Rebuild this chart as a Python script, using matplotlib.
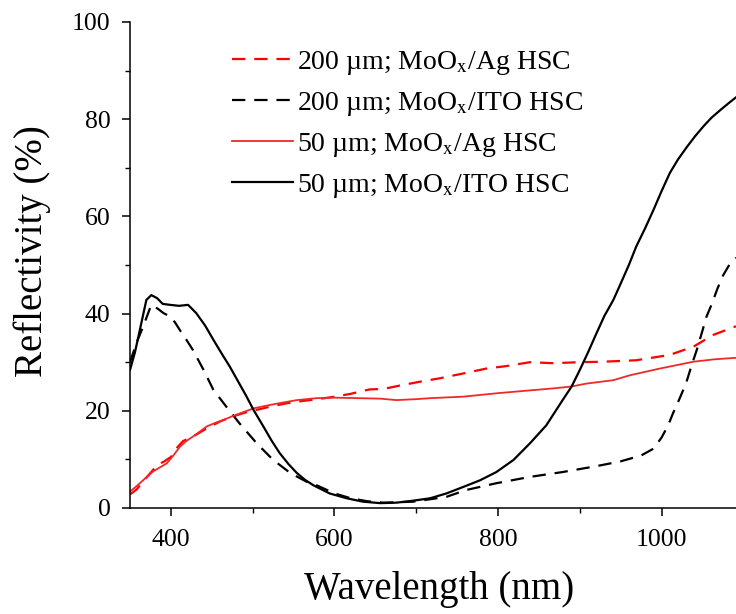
import matplotlib
matplotlib.use("Agg")
import matplotlib.pyplot as plt
from matplotlib.ticker import MultipleLocator

plt.rcParams["font.family"] = ["Liberation Serif", "DejaVu Serif"]
plt.rcParams["mathtext.fontset"] = "stix"

# 50 um; MoOx/ITO HSC (black solid)
wl_ito50 = [350, 356, 362, 370, 376, 383, 390, 399, 410, 421, 431, 442, 452, 462, 472,
            482, 492, 501, 513, 523, 533, 544, 554, 564, 574, 594, 615, 635, 656, 676,
            696, 717, 737, 757, 778, 798, 819, 839, 859, 879, 890, 900, 910, 920, 930,
            941, 949, 960, 969, 980, 990, 1000, 1010, 1020, 1031, 1041, 1051, 1061,
            1072, 1082, 1091]
r_ito50 = [28.4, 32.0, 36.6, 42.8, 43.8, 43.2, 42.0, 41.8, 41.6, 41.8, 40.1, 37.5, 34.6,
           31.8, 29.1, 26.1, 23.1, 20.2, 16.8, 13.9, 11.3, 9.0, 7.2, 5.8, 4.7, 3.0, 2.0,
           1.3, 1.0, 1.1, 1.5, 2.0, 3.0, 4.3, 5.7, 7.4, 9.9, 13.3, 17.0, 22.2, 25.0, 28.4,
           32.0, 35.8, 39.5, 42.8, 45.8, 50.0, 53.8, 57.6, 61.3, 65.2, 68.9, 71.7, 74.3,
           76.5, 78.5, 80.3, 81.9, 83.3, 84.5]

# 200 um; MoOx/ITO HSC (black dashed)
wl_ito200 = [350, 358, 366, 376, 384, 391, 399, 405, 411, 419, 427, 440, 452, 468, 484,
             505, 525, 546, 566, 578, 600, 620, 640, 660, 680, 696, 717, 737, 761, 798,
             839, 879, 920, 950, 975, 990, 1000, 1008, 1014, 1022, 1030, 1037, 1043,
             1050, 1055, 1061, 1068, 1075, 1082, 1091]
r_ito200 = [30.0, 34.0, 37.3, 41.8, 41.0, 40.1, 39.4, 38.2, 36.6, 34.6, 32.5, 28.4, 24.3,
            20.8, 17.4, 13.3, 9.9, 7.2, 5.4, 4.7, 3.0, 2.0, 1.4, 1.1, 1.2, 1.3, 1.8, 2.3,
            3.7, 5.1, 6.4, 7.4, 8.6, 9.6, 10.8, 12.2, 14.5, 17.0, 19.5, 22.5, 25.7, 29.5,
            32.5, 36.5, 39.4, 41.8, 45.0, 47.8, 49.8, 51.5]

# 50 um; MoOx/Ag HSC (red solid)
wl_ag50 = [350, 356, 362, 370, 378, 386, 395, 403, 411, 419, 427, 436, 444, 454, 464,
           474, 485, 501, 521, 537, 554, 578, 600, 630, 656, 676, 700, 717, 757, 798,
           839, 867, 890, 908, 941, 961, 998, 1039, 1065, 1091]
r_ag50 = [3.4, 4.2, 5.1, 6.3, 7.5, 8.3, 9.2, 10.8, 12.6, 13.8, 14.7, 15.8, 16.8, 17.5,
          18.1, 18.8, 19.5, 20.5, 21.2, 21.7, 22.2, 22.6, 22.7, 22.6, 22.5, 22.2, 22.4,
          22.6, 22.9, 23.6, 24.2, 24.6, 25.0, 25.6, 26.3, 27.3, 28.7, 30.1, 30.6, 30.9]

# 200 um; MoOx/Ag HSC (red dashed)
wl_ag200 = [350, 358, 366, 375, 383, 392, 400, 408, 415, 425, 435, 445, 460, 475, 490,
            505, 520, 540, 560, 580, 600, 620, 643, 660, 680, 705, 729, 758, 786, 810,
            839, 867, 900, 928, 969, 1010, 1039, 1063, 1091]
r_ag200 = [2.8, 3.8, 5.5, 7.2, 8.8, 9.6, 10.5, 12.5, 13.8, 14.5, 15.5, 16.5, 17.8, 18.8,
           19.6, 20.2, 20.8, 21.5, 22.0, 22.4, 22.9, 23.5, 24.4, 24.5, 25.2, 26.0, 26.7,
           27.7, 28.7, 29.2, 30.0, 29.8, 30.0, 30.1, 30.4, 31.5, 33.2, 35.6, 37.4]

fig = plt.figure(figsize=(7.36, 6.14), dpi=100)
ax = fig.add_axes([130 / 736, 106 / 614, 606 / 736, 486 / 614])

dash = (0, (6.0, 4.0))
ax.plot(wl_ag200, r_ag200, color="#ff0000", lw=1.6, ls=dash,
        label="200 µm; MoO$_\\mathrm{x}$/Ag HSC")
ax.plot(wl_ito200, r_ito200, color="black", lw=1.6, ls=dash,
        label="200 µm; MoO$_\\mathrm{x}$/ITO HSC")
ax.plot(wl_ag50, r_ag50, color="#f02828", lw=1.3,
        label="50 µm; MoO$_\\mathrm{x}$/Ag HSC")
ax.plot(wl_ito50, r_ito50, color="black", lw=1.6,
        label="50 µm; MoO$_\\mathrm{x}$/ITO HSC")

ax.set_xlim(350, 1091)
ax.set_ylim(0, 100)
ax.xaxis.set_major_locator(MultipleLocator(200))
ax.xaxis.set_minor_locator(MultipleLocator(100))
ax.yaxis.set_major_locator(MultipleLocator(20))
ax.yaxis.set_minor_locator(MultipleLocator(10))
ax.tick_params(which="major", direction="out", length=6, width=1.1, labelsize=18.5)
ax.tick_params(which="minor", direction="out", length=3.6, width=1.0)
ax.tick_params(axis="x", which="major", pad=9)
ax.tick_params(axis="y", which="major", pad=8)
ax.spines["top"].set_visible(False)
ax.spines["right"].set_visible(False)
ax.spines["left"].set_linewidth(1.1)
ax.spines["bottom"].set_linewidth(1.1)

ax.set_xlabel("Wavelength (nm)", fontsize=28)
ax.set_ylabel("Reflectivity (%)", fontsize=28)
ax.xaxis.set_label_coords(0.51, -0.13)
ax.yaxis.set_label_coords(-0.13, 0.529)

ax.legend(loc="upper left", bbox_to_anchor=(0.168, 0.944), frameon=False, fontsize=20,
          handlelength=2.2, handletextpad=0.15, labelspacing=0.46,
          borderpad=0, borderaxespad=0)

plt.savefig("out.png", dpi=100)
